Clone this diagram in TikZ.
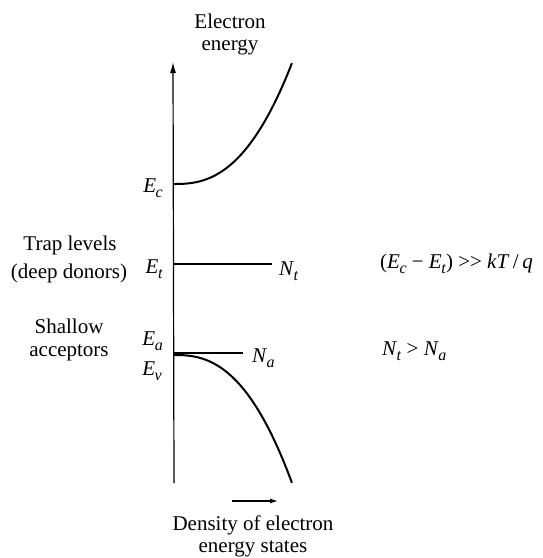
\documentclass[tikz,border=0pt]{standalone}
\usepackage{fontspec}
\setmainfont{Liberation Serif}
\usetikzlibrary{arrows.meta}
\newcommand\Esb[2]{\textit{#1}\kern-0.5pt\raisebox{-0.28em}{\fontsize{16}{16}\selectfont\textit{#2}}}
\tikzset{
  lbl/.style={inner sep=0pt, font=\fontsize{21}{25}\selectfont},
  axisline/.style={line width=1.2pt},
  bandcurve/.style={line width=2pt},
  levelline/.style={line width=2.8pt}
}
\begin{document}
\begin{tikzpicture}[x=1pt,y=-1pt]
\useasboundingbox (0,0) rectangle (542,558);
% axis
\coordinate (axb) at (174,483);
\coordinate (axt) at (173,62);
\draw[axisline,-{Latex[length=11pt,width=6pt]}] (axb) -- (axt);
% conduction band
\draw[bandcurve] plot[domain=0:1,samples=80,variable=\t] ({174+118*\t},{184-121*\t*\t*sqrt(\t)});
% valence band
\draw[bandcurve] plot[domain=0:1,samples=80,variable=\t] ({174+118*\t},{355+128*\t*\t*sqrt(\t)});
% levels
\coordinate (ta) at (174,264);
\coordinate (tb) at (272,264);
\draw[levelline] (ta) -- (tb);
\coordinate (aa) at (174,353);
\coordinate (ab) at (243,353);
\draw[levelline] (aa) -- (ab);
% left labels
\node[lbl,anchor=base east] (Ec) at (163,192) {\Esb{E}{c}};
\node[lbl,anchor=base east] (Et) at (163,273) {\Esb{E}{t}};
\node[lbl,anchor=base east] (Ea) at (163,345) {\Esb{E}{a}};
\node[lbl,anchor=base east] (Ev) at (162,375) {\Esb{E}{v}};
\node[lbl,anchor=base west] (Nt) at (279,275) {\Esb{N}{t}};
\node[lbl,anchor=base west] (Na) at (252,362) {\Esb{N}{a}};
% titles
\node[lbl,anchor=base] (t1) at (230,28) {Electron};
\node[lbl,anchor=base] (t2) at (230,50) {energy};
\node[lbl,anchor=base] (tr1) at (70,250) {Trap levels};
\node[lbl,anchor=base] (tr2) at (69,278) {(deep donors)};
\node[lbl,anchor=base] (sh1) at (69,333) {Shallow};
\node[lbl,anchor=base] (sh2) at (69,356) {acceptors};
% right
\node[lbl,anchor=base west] (cond1) at (380,268) {(\Esb{E}{c} − \Esb{E}{t}) \mbox{>}\mbox{>} \textit{kT}\,/\,\textit{q}};
\node[lbl,anchor=base west] (cond2) at (382,355) {\Esb{N}{t} > \Esb{N}{a}};
% bottom
\coordinate (da) at (232,501);
\coordinate (db) at (278,501);
\draw[line width=1.2pt,-{Latex[length=8pt,width=5pt]}] (da) -- (db);
\node[lbl,anchor=base] (d1) at (253,530) {Density of electron};
\node[lbl,anchor=base] (d2) at (253,552) {energy states};
\end{tikzpicture}
\end{document}
